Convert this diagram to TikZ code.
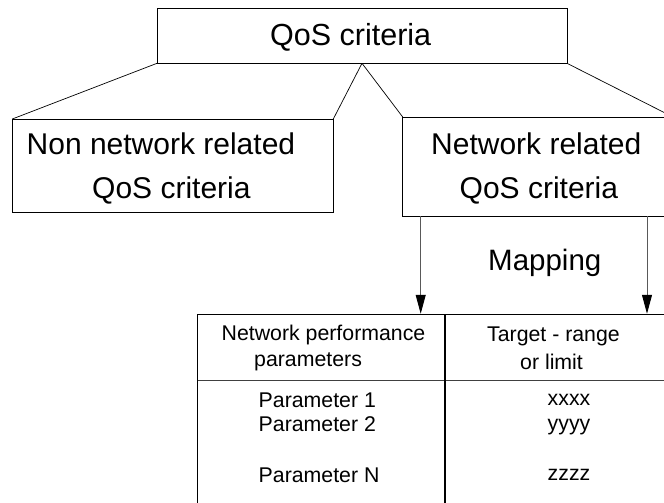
\documentclass[tikz,border=0pt]{standalone}
\usepackage{fontspec}
\setmainfont{Liberation Sans}
\usetikzlibrary{arrows.meta}
\begin{document}
\begin{tikzpicture}[x=1pt,y=-1pt,
  box/.style={draw=black,line width=0.8pt,inner sep=0pt,outer sep=0pt},
  conn/.style={draw=black,line width=0.7pt},
  arr/.style={draw=black!65,line width=0.9pt,-{Triangle[length=19pt,width=10pt,color=black]}},
  big/.style={font=\fontsize{30}{36}\selectfont,inner sep=0pt,anchor=base west},
  small/.style={font=\fontsize{21.3}{25}\selectfont,inner sep=0pt,anchor=base west}]
\useasboundingbox (0,0) rectangle (664,503);
\clip (0,0) rectangle (664,503);
% boxes
\node[box,minimum width=410pt,minimum height=55pt] (top) at (362,35.8) {};
\node[box,minimum width=321pt,minimum height=93.7pt] (lb) at (172.8,165.85) {};
\node[box,minimum width=270.3pt,minimum height=99pt] (rb) at (537.85,166.5) {};
% texts
\node[big,font=\fontsize{30.5}{36}\selectfont] (t0) at (270,46) {QoS criteria};
\node[big] (l1) at (26.5,154) {Non network related};
\node[big] (l2) at (92,198) {QoS criteria};
\node[big] (r1) at (431,154) {Network related};
\node[big] (r2) at (459.5,198) {QoS criteria};
\node[big,font=\fontsize{29.5}{36}\selectfont] (map) at (488,270.7) {Mapping};
% connectors
\draw[conn] (top.south west) -- (lb.north west);
\draw[conn] (top.south) -- (lb.north east);
\draw[conn] (top.south) -- (rb.north west);
\draw[conn] (top.south east) -- (rb.north east);
% table
\node[draw=black,line width=1.1pt,inner sep=0pt,minimum width=494.3pt,minimum height=200.7pt] (tab) at (444.85,414.65) {};
\coordinate (hs1) at (197.7,380);
\coordinate (hs2) at (692,380);
\draw[draw=black!75,line width=1pt] (hs1) -- (hs2);
\coordinate (dv1) at (445,314.3);
\coordinate (dv2) at (445,515);
\draw[draw=black,line width=1.6pt] (dv1) -- (dv2);
\node[small] (h1) at (221.5,340.7) {Network performance};
\node[small] (h2) at (254,366.7) {parameters};
\node[small] (h3) at (487,341.7) {Target - range};
\node[small] (h4) at (520,369.3) {or limit};
\node[small] (p1) at (258.5,407.7) {Parameter 1};
\node[small] (p2) at (258.5,431.7) {Parameter 2};
\node[small] (pn) at (258.5,482.3) {Parameter N};
\node[small] (v1) at (547.5,405.7) {xxxx};
\node[small] (v2) at (547.5,430) {yyyy};
\node[small] (v3) at (547.5,480) {zzzz};
% arrows
\coordinate (a1s) at ([xshift=18pt]rb.south west);
\coordinate (a1e) at (a1s |- tab.north);
\coordinate (a2s) at ([xshift=-26pt]rb.south east);
\coordinate (a2e) at (a2s |- tab.north);
\draw[arr] (a1s) -- (a1e);
\draw[arr] (a2s) -- (a2e);
\end{tikzpicture}
\end{document}
